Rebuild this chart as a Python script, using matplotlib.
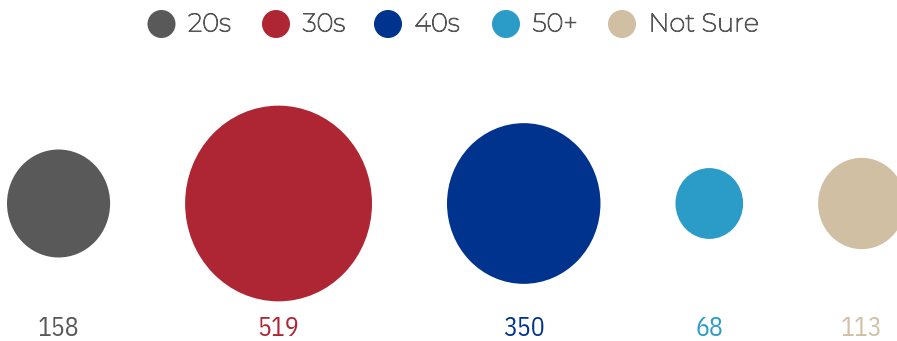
import numpy as np
import matplotlib
matplotlib.use("Agg")
import matplotlib.pyplot as plt
from matplotlib.patches import Ellipse
import matplotlib.patheffects as pe

# data
groups = ['20s', '30s', '40s', '50+', 'Not Sure']
counts = [158, 519, 350, 68, 113]
colors = ['#595959', '#AE2633', '#00338D', '#2B9CC8', '#D1BFA3']

W, H = 897, 341
fig = plt.figure(figsize=(W / 100, H / 100), dpi=100)
ax = fig.add_axes([0, 0, 1, 1])
ax.set_xlim(0, W)
ax.set_ylim(H, 0)
ax.axis('off')

label_font = ['IBM Plex Sans Condensed', 'Open Sans', 'DejaVu Sans']
legend_font = ['Montserrat', 'Open Sans', 'DejaVu Sans']
# the installed Montserrat renders thin, so fatten the strokes a bit
fatten = [pe.withStroke(linewidth=0.75, foreground='#555555')]

# bubble sizes ~ sqrt(count), laid out with a fixed gap between them
k = 8.59
squash = 0.955
gap = 75
cy = 203.5
left = 7
for g, v, col in zip(groups, counts, colors):
    h = k * np.sqrt(v)
    w = h * squash
    cx = left + w / 2
    ax.add_patch(Ellipse((cx, cy), w, h, color=col, lw=0))
    ax.text(cx, 329, str(v), color=col, ha='center', va='center',
            fontsize=18.5, family=label_font)
    left += w + gap

# legend across the top
leg_x = [161.5, 276, 388, 506, 622]
for g, col, x in zip(groups, colors, leg_x):
    ax.add_patch(Ellipse((x, 24), 28, 28, color=col, lw=0))
    ax.text(x + 26.5, 24, g, color='#555555', ha='left', va='center',
            fontsize=18.5, family=legend_font, path_effects=fatten)

fig.savefig('out.png', dpi=100)
